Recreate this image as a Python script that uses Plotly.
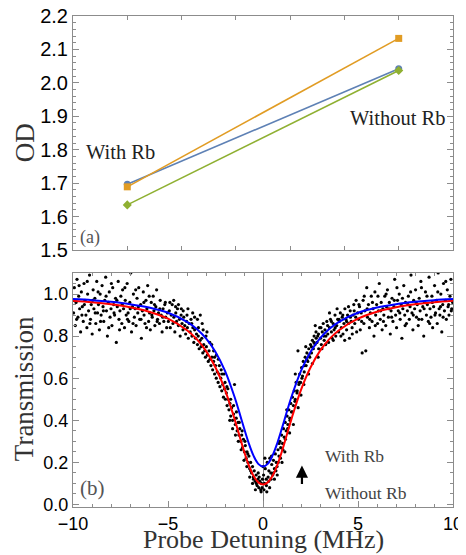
import plotly.graph_objects as go
from plotly.subplots import make_subplots

# (a) OD, with / without Rb
od_x = [1, 2]
od_blue = [1.697, 2.042]
od_orange = [1.689, 2.133]
od_green = [1.635, 2.037]

# (b) fitted transmission curves
curve_x = [-10, -9, -8, -7, -6, -5, -4, -3.5, -3, -2.5, -2, -1.5, -1.25, -1, -0.75, -0.5, -0.25, 0,
           0.25, 0.5, 0.75, 1, 1.25, 1.5, 2, 2.5, 3, 3.5, 4, 5, 6, 7, 8, 9, 10]
fit_with_rb = [0.976, 0.971, 0.963, 0.952, 0.936, 0.911, 0.868, 0.835, 0.789, 0.725, 0.635, 0.512, 0.439,
               0.363, 0.291, 0.232, 0.193, 0.180,
               0.193, 0.232, 0.291, 0.363, 0.439, 0.512, 0.635, 0.725, 0.789, 0.835, 0.868, 0.911, 0.936,
               0.952, 0.963, 0.971, 0.976]
fit_without_rb = [0.968, 0.961, 0.951, 0.937, 0.916, 0.883, 0.828, 0.787, 0.730, 0.651, 0.545, 0.407, 0.330,
                  0.254, 0.187, 0.136, 0.105, 0.095,
                  0.105, 0.136, 0.187, 0.254, 0.330, 0.407, 0.545, 0.651, 0.730, 0.787, 0.828, 0.883, 0.916,
                  0.937, 0.951, 0.961, 0.968]

# (b) measured points (detuning MHz, transmission)
pts_left_wing = [
    (-9.97, 0.91), (-9.93, 1.03), (-9.88, 0.85), (-9.84, 0.96), (-9.79, 1.07), (-9.74, 0.89), (-9.7, 0.99),
    (-9.65, 0.93), (-9.6, 0.82), (-9.56, 1.01), (-9.51, 0.94), (-9.46, 0.87), (-9.42, 1.05), (-9.37, 0.97),
    (-9.32, 0.9), (-9.27, 0.84), (-9.23, 1.0), (-9.18, 0.92), (-9.13, 1.09), (-9.08, 0.88), (-9.04, 0.95),
    (-8.99, 0.81), (-8.94, 1.02), (-8.9, 0.93), (-8.85, 0.98), (-8.8, 0.86), (-8.75, 1.06), (-8.71, 0.91),
    (-8.66, 0.95), (-8.61, 0.83), (-8.57, 1.0), (-8.52, 0.9), (-8.47, 1.04), (-8.42, 0.94), (-8.38, 0.87),
    (-8.33, 0.97), (-8.28, 1.08), (-8.24, 0.92), (-8.19, 0.8), (-8.14, 0.96), (-8.09, 1.01), (-8.05, 0.89),
    (-8.0, 0.93), (-7.95, 0.85), (-7.91, 1.03), (-7.86, 0.95), (-7.81, 0.9), (-7.76, 0.98), (-7.72, 0.77),
    (-7.67, 0.94), (-7.62, 1.06), (-7.58, 0.88), (-7.53, 0.92), (-7.48, 0.99), (-7.43, 0.86), (-7.39, 1.02),
    (-7.34, 0.93), (-7.29, 0.84), (-7.25, 0.97), (-7.2, 0.9), (-7.15, 1.05), (-7.1, 0.91), (-7.06, 0.87),
    (-7.01, 0.96), (-6.96, 1.1), (-6.92, 0.82), (-6.87, 0.94), (-6.82, 1.0), (-6.77, 0.89), (-6.73, 0.93),
    (-6.68, 0.85), (-6.63, 0.98), (-6.59, 0.91), (-6.54, 1.03), (-6.49, 0.88), (-6.44, 0.95), (-6.4, 0.79),
    (-6.35, 0.92), (-6.3, 1.01), (-6.26, 0.9), (-6.21, 0.86), (-6.16, 0.97), (-6.11, 0.93), (-6.07, 1.04),
    (-6.02, 0.87), (-5.97, 0.91), (-5.93, 0.83), (-5.88, 0.96), (-5.83, 0.89), (-5.78, 0.99), (-5.74, 0.92),
    (-5.69, 0.85), (-5.64, 0.94), (-5.6, 1.02), (-5.55, 0.88), (-5.5, 0.91), (-5.45, 0.86), (-5.41, 0.97),
    (-5.36, 0.9), (-5.31, 0.82), (-5.26, 0.93), (-5.22, 0.87), (-5.17, 0.95), (-5.12, 0.89), (-5.07, 0.84),
    (-5.03, 0.91),
    (-9.95, 0.97), (-9.81, 0.88), (-9.68, 1.04), (-9.53, 0.9), (-9.4, 0.95), (-9.25, 1.06), (-9.11, 0.86),
    (-8.97, 0.97), (-8.83, 0.91), (-8.68, 1.01), (-8.55, 0.87), (-8.4, 0.92), (-8.26, 0.99), (-8.12, 0.84),
    (-7.98, 1.05), (-7.84, 0.91), (-7.69, 0.97), (-7.55, 0.83), (-7.41, 0.95), (-7.27, 1.03), (-7.13, 0.88),
    (-6.99, 0.93), (-6.84, 0.86), (-6.7, 1.02), (-6.56, 0.94), (-6.42, 0.88), (-6.27, 0.96), (-6.13, 0.84),
    (-5.99, 0.99), (-5.85, 0.9), (-5.71, 0.95), (-5.57, 0.87), (-5.43, 0.93), (-5.28, 0.89), (-5.14, 0.96),
]
pts_left_slope = [
    (-4.98, 0.87), (-4.93, 0.92), (-4.88, 0.84), (-4.83, 0.9), (-4.78, 0.95), (-4.74, 0.86), (-4.69, 0.89),
    (-4.64, 0.82), (-4.59, 0.91), (-4.55, 0.87), (-4.5, 0.93), (-4.45, 0.85), (-4.4, 0.88), (-4.36, 0.8),
    (-4.31, 0.9), (-4.26, 0.86), (-4.21, 0.83), (-4.17, 0.89), (-4.12, 0.85), (-4.07, 0.81), (-4.02, 0.87),
    (-3.98, 0.84), (-3.93, 0.79), (-3.88, 0.86), (-3.83, 0.82), (-3.79, 0.88), (-3.74, 0.8), (-3.69, 0.84),
    (-3.64, 0.77), (-3.6, 0.83), (-3.55, 0.79), (-3.5, 0.81), (-3.45, 0.76), (-3.41, 0.8), (-3.36, 0.74),
    (-3.31, 0.78), (-3.26, 0.75), (-3.22, 0.79), (-3.17, 0.72), (-3.12, 0.76), (-3.07, 0.73), (-3.03, 0.7),
    (-2.98, 0.75), (-2.93, 0.71), (-2.88, 0.68), (-2.84, 0.73), (-2.79, 0.69), (-2.74, 0.66), (-2.69, 0.7),
    (-2.65, 0.64), (-2.6, 0.68), (-2.55, 0.62), (-2.5, 0.66), (-2.46, 0.6), (-2.41, 0.63), (-2.36, 0.58),
    (-2.31, 0.62), (-2.27, 0.56), (-2.22, 0.6), (-2.17, 0.54), (-2.12, 0.57), (-2.08, 0.51), (-2.03, 0.55),
    (-1.98, 0.5), (-1.93, 0.53), (-1.89, 0.47), (-1.84, 0.5), (-1.79, 0.45), (-1.74, 0.48), (-1.7, 0.42),
    (-1.65, 0.46), (-1.6, 0.4), (-1.55, 0.43), (-1.5, 0.57), (-1.46, 0.38), (-1.41, 0.41), (-1.36, 0.35),
    (-1.31, 0.39), (-1.27, 0.33), (-1.22, 0.36), (-1.17, 0.3), (-1.12, 0.33), (-1.08, 0.27), (-1.03, 0.31),
    (-0.98, 0.25), (-0.93, 0.28), (-0.89, 0.22), (-0.84, 0.25), (-0.79, 0.2), (-0.74, 0.23), (-0.7, 0.17),
    (-0.65, 0.2), (-0.6, 0.15), (-0.55, 0.18), (-0.51, 0.13), (-0.46, 0.16), (-0.41, 0.11), (-0.36, 0.14),
    (-0.31, 0.09), (-0.27, 0.12), (-0.22, 0.08), (-0.17, 0.11), (-0.12, 0.07), (-0.08, 0.1), (-0.03, 0.12),
    (-4.9, 0.96), (-4.6, 0.94), (-4.3, 0.93), (-4.0, 0.9), (-3.75, 0.86), (-3.6, 0.89), (-3.4, 0.84),
    (-3.2, 0.86), (-3.0, 0.8), (-2.8, 0.77), (-2.6, 0.73), (-2.45, 0.71), (-2.3, 0.66), (-2.15, 0.62),
    (-2.0, 0.58), (-1.85, 0.55), (-1.7, 0.5), (-1.55, 0.47), (-1.4, 0.44), (-1.25, 0.39), (-1.1, 0.35),
    (-0.95, 0.3), (-0.8, 0.24), (-0.65, 0.16), (-0.5, 0.12), (-0.35, 0.1), (-0.2, 0.13), (-0.05, 0.08),
    (-4.7, 0.97), (-4.45, 0.95), (-4.2, 0.92), (-3.95, 0.93), (-3.7, 0.91), (-3.45, 0.88), (-3.3, 0.9),
    (-3.15, 0.83), (-2.95, 0.82), (-2.7, 0.76), (-2.55, 0.7), (-2.35, 0.69), (-2.2, 0.64), (-2.05, 0.62),
    (-1.9, 0.56), (-1.75, 0.4), (-1.6, 0.36), (-1.45, 0.33), (-1.3, 0.3), (-1.15, 0.26), (-1.0, 0.21),
    (-0.85, 0.18), (-0.7, 0.13), (-0.55, 0.1), (-0.4, 0.07), (-0.25, 0.15), (-0.1, 0.06),
]
pts_right_slope = [
    (0.03, 0.14), (0.08, 0.1), (0.12, 0.17), (0.17, 0.12), (0.22, 0.2), (0.27, 0.13), (0.31, 0.16),
    (0.36, 0.22), (0.41, 0.15), (0.46, 0.19), (0.51, 0.14), (0.55, 0.21), (0.6, 0.17), (0.65, 0.24),
    (0.7, 0.2), (0.74, 0.18), (0.79, 0.26), (0.84, 0.23), (0.89, 0.3), (0.93, 0.27), (0.98, 0.33),
    (1.03, 0.29), (1.08, 0.36), (1.12, 0.32), (1.17, 0.39), (1.22, 0.35), (1.27, 0.42), (1.31, 0.38),
    (1.36, 0.45), (1.41, 0.41), (1.46, 0.48), (1.5, 0.44), (1.55, 0.51), (1.6, 0.47), (1.65, 0.54),
    (1.7, 0.5), (1.74, 0.58), (1.79, 0.53), (1.84, 0.73), (1.89, 0.57), (1.93, 0.62), (1.98, 0.58),
    (2.03, 0.65), (2.08, 0.61), (2.12, 0.68), (2.17, 0.63), (2.22, 0.7), (2.27, 0.66), (2.31, 0.72),
    (2.36, 0.68), (2.41, 0.74), (2.46, 0.7), (2.5, 0.76), (2.55, 0.72), (2.6, 0.78), (2.65, 0.74),
    (2.69, 0.8), (2.74, 0.76), (2.79, 0.82), (2.84, 0.77), (2.88, 0.8), (2.93, 0.74), (2.98, 0.84),
    (3.03, 0.79), (3.07, 0.76), (3.12, 0.82), (3.17, 0.86), (3.22, 0.78), (3.26, 0.83), (3.31, 0.8),
    (3.36, 0.87), (3.41, 0.81), (3.45, 0.77), (3.5, 0.84), (3.55, 0.88), (3.6, 0.82), (3.64, 0.79),
    (3.69, 0.86), (3.74, 0.83), (3.79, 0.9), (3.83, 0.8), (3.88, 0.85), (3.93, 0.88), (3.98, 0.82),
    (4.02, 0.87), (4.07, 0.91), (4.12, 0.84), (4.17, 0.89), (4.21, 0.81), (4.26, 0.86), (4.31, 0.93),
    (4.36, 0.88), (4.4, 0.83), (4.45, 0.9), (4.5, 0.86), (4.55, 0.79), (4.59, 0.92), (4.64, 0.87),
    (4.69, 0.84), (4.74, 0.9), (4.78, 0.95), (4.83, 0.86), (4.88, 0.89), (4.93, 0.82), (4.98, 0.91),
    (0.05, 0.07), (0.18, 0.09), (0.3, 0.11), (0.42, 0.12), (0.55, 0.15), (0.68, 0.16), (0.8, 0.2),
    (0.92, 0.22), (1.05, 0.26), (1.18, 0.31), (1.3, 0.36), (1.42, 0.4), (1.55, 0.44), (1.68, 0.49),
    (1.8, 0.54), (1.92, 0.58), (2.05, 0.6), (2.18, 0.66), (2.3, 0.69), (2.42, 0.71), (2.55, 0.75),
    (2.68, 0.77), (2.8, 0.79), (2.92, 0.81), (3.05, 0.84), (3.2, 0.8), (3.4, 0.85), (3.6, 0.87),
    (3.8, 0.84), (4.0, 0.88), (4.2, 0.9), (4.4, 0.87), (4.6, 0.89), (4.8, 0.92),
    (0.0, 0.18), (0.1, 0.22), (0.2, 0.06), (0.35, 0.08), (0.45, 0.23), (0.6, 0.12), (0.75, 0.14),
    (0.85, 0.29), (1.0, 0.2), (1.15, 0.25), (1.25, 0.45), (1.4, 0.34), (1.6, 0.38), (1.7, 0.62),
    (1.85, 0.46), (2.0, 0.52), (2.15, 0.57), (2.25, 0.75), (2.4, 0.62), (2.6, 0.67), (2.75, 0.85),
    (2.9, 0.7), (3.1, 0.74), (3.3, 0.76), (3.5, 0.91), (3.7, 0.78), (3.9, 0.93), (4.1, 0.8),
    (4.3, 0.78), (4.5, 0.94), (4.7, 0.81), (4.9, 0.97),
]
pts_right_wing = [
    (5.03, 0.88), (5.08, 0.94), (5.12, 0.83), (5.17, 0.91), (5.22, 0.72), (5.27, 0.97), (5.31, 0.86),
    (5.36, 0.92), (5.41, 0.73), (5.46, 1.03), (5.5, 0.89), (5.55, 0.95), (5.6, 0.84), (5.65, 0.91),
    (5.7, 0.99), (5.74, 0.87), (5.79, 0.93), (5.84, 0.8), (5.89, 1.01), (5.93, 0.9), (5.98, 0.95),
    (6.03, 0.86), (6.08, 0.92), (6.12, 1.05), (6.17, 0.88), (6.22, 0.96), (6.27, 0.83), (6.31, 0.93),
    (6.36, 0.9), (6.41, 0.99), (6.46, 0.85), (6.5, 0.94), (6.55, 1.02), (6.6, 0.89), (6.65, 0.96),
    (6.7, 0.81), (6.74, 0.92), (6.79, 0.98), (6.84, 0.87), (6.89, 0.94), (6.93, 1.07), (6.98, 0.9),
    (7.03, 0.84), (7.08, 0.97), (7.12, 0.92), (7.17, 1.0), (7.22, 0.88), (7.27, 0.95), (7.31, 0.79),
    (7.36, 0.93), (7.41, 1.04), (7.46, 0.9), (7.5, 0.96), (7.55, 0.86), (7.6, 0.92), (7.65, 0.99),
    (7.7, 0.88), (7.74, 0.94), (7.79, 1.09), (7.84, 0.91), (7.89, 0.83), (7.93, 0.97), (7.98, 0.93),
    (8.03, 1.02), (8.08, 0.89), (8.12, 0.95), (8.17, 0.85), (8.22, 0.98), (8.27, 0.92), (8.31, 1.06),
    (8.36, 0.88), (8.41, 0.94), (8.46, 0.8), (8.5, 0.96), (8.55, 1.01), (8.6, 0.9), (8.65, 0.95),
    (8.7, 0.87), (8.74, 1.08), (8.79, 0.93), (8.84, 0.89), (8.89, 0.99), (8.93, 0.84), (8.98, 0.94),
    (9.03, 1.04), (9.08, 0.91), (9.12, 0.97), (9.17, 0.86), (9.22, 1.1), (9.27, 0.93), (9.31, 0.9),
    (9.36, 1.0), (9.41, 0.82), (9.46, 0.95), (9.5, 1.05), (9.55, 0.92), (9.6, 0.97), (9.65, 0.88),
    (9.7, 1.02), (9.74, 0.94), (9.79, 0.9), (9.84, 0.99), (9.89, 1.07), (9.93, 0.93), (9.98, 0.96),
    (5.05, 0.95), (5.19, 0.87), (5.33, 0.99), (5.48, 0.93), (5.62, 0.88), (5.76, 0.96), (5.91, 0.85),
    (6.05, 0.99), (6.19, 0.92), (6.34, 0.87), (6.48, 1.0), (6.62, 0.93), (6.77, 0.89), (6.91, 0.97),
    (7.05, 1.03), (7.2, 0.91), (7.34, 0.98), (7.48, 0.85), (7.63, 0.95), (7.77, 1.01), (7.91, 0.9),
    (8.06, 0.96), (8.2, 0.88), (8.34, 1.03), (8.48, 0.93), (8.63, 0.99), (8.77, 0.86), (8.91, 0.96),
    (9.05, 0.9), (9.2, 1.01), (9.34, 0.94), (9.48, 0.89), (9.62, 1.06), (9.77, 0.95), (9.91, 0.92),
]

all_pts = pts_left_wing + pts_left_slope + pts_right_slope + pts_right_wing
meas_x = [p[0] for p in all_pts]
meas_y = [p[1] for p in all_pts]

SERIF = "Liberation Serif, Times New Roman, serif"
SANS = "Liberation Sans, Arial, sans-serif"
FRAME = "#8c8c8c"

fig = make_subplots(rows=2, cols=1, vertical_spacing=0.0468)

# panel (a)
for ys, col, sym in [(od_blue, "#5E81B5", "circle"), (od_orange, "#E19C24", "square"),
                     (od_green, "#8FB032", "diamond")]:
    fig.add_trace(go.Scatter(x=od_x, y=ys, mode="lines+markers",
                             line=dict(color=col, width=1.6),
                             marker=dict(color=col, symbol=sym, size=7)), row=1, col=1)

# panel (b)
fig.add_trace(go.Scatter(x=meas_x, y=meas_y, mode="markers",
                         marker=dict(color="black", size=3.2)), row=2, col=1)
fig.add_trace(go.Scatter(x=curve_x, y=fit_without_rb, mode="lines", line_shape="spline",
                         line=dict(color="#ff0000", width=2)), row=2, col=1)
fig.add_trace(go.Scatter(x=curve_x, y=fit_with_rb, mode="lines", line_shape="spline",
                         line=dict(color="#0000ff", width=2)), row=2, col=1)

axis_common = dict(showgrid=False, showline=True, linecolor=FRAME, linewidth=1, mirror="ticks",
                   ticks="inside", tickcolor=FRAME, automargin=False, ticklabeloverflow="allow")

fig.update_xaxes(axis_common, row=1, col=1, range=[0.8, 2.2], dtick=0.2, ticklen=4,
                 showticklabels=False, zeroline=False)
fig.update_yaxes(axis_common, row=1, col=1, range=[1.5, 2.2], dtick=0.1, ticklen=6,
                 tickformat=".1f", zeroline=False,
                 tickfont=dict(family=SANS, size=20, color="black"),
                 minor=dict(ticks="inside", dtick=0.02, ticklen=3, tickcolor=FRAME))
fig.update_xaxes(axis_common, row=2, col=1, range=[-10, 10], dtick=5, ticklen=6,
                 zeroline=True, zerolinecolor="#808080", zerolinewidth=1,
                 tickfont=dict(family=SANS, size=18, color="black"),
                 minor=dict(ticks="inside", dtick=1, ticklen=3, tickcolor=FRAME))
fig.update_yaxes(axis_common, row=2, col=1, range=[-0.012, 1.1], dtick=0.2, ticklen=6,
                 tickformat=".1f", zeroline=False,
                 tickfont=dict(family=SANS, size=18, color="black"),
                 minor=dict(ticks="inside", dtick=0.05, ticklen=3, tickcolor=FRAME))

# axis titles
title_font = dict(family=SERIF, size=27, color="#333")
fig.add_annotation(x=-0.126, y=0.741, xref="paper", yref="paper", text="OD", textangle=-90,
                   xanchor="center", yanchor="middle", showarrow=False, font=title_font)
fig.add_annotation(x=-0.129, y=0.242, xref="paper", yref="paper", text="Transmission", textangle=-90,
                   xanchor="center", yanchor="middle", showarrow=False, font=title_font)
fig.add_annotation(x=0, y=-0.066, xref="x2", yref="paper", text="Probe Detuning (MHz)",
                   showarrow=False, yanchor="middle", font=dict(family=SERIF, size=26, color="#333"))

ann_font = dict(family=SERIF, size=20.5, color="#222")
fig.add_annotation(x=0.975, y=1.793, xref="x", yref="y", text="With Rb", showarrow=False, font=ann_font)
fig.add_annotation(x=1.997, y=1.895, xref="x", yref="y", text="Without Rb", showarrow=False, font=ann_font)
fig.add_annotation(x=0.864, y=1.536, xref="x", yref="y", text="(a)", showarrow=False,
                   font=dict(family=SERIF, size=18, color="#555"))

txt_font = dict(family=SERIF, size=17.5, color="#444")
fig.add_annotation(x=3.14, y=0.229, xref="x2", yref="y2", text="With Rb", showarrow=False,
                   xanchor="left", font=txt_font)
fig.add_annotation(x=3.14, y=0.055, xref="x2", yref="y2", text="Without Rb", showarrow=False,
                   xanchor="left", font=txt_font)
fig.add_annotation(x=-9.0, y=0.08, xref="x2", yref="y2", text="(b)", showarrow=False,
                   font=dict(family=SERIF, size=21, color="#555"))
fig.add_annotation(x=2.05, y=0.185, xref="x2", yref="y2", ax=2.05, ay=0.09, axref="x2", ayref="y2",
                   text="", showarrow=True, arrowhead=2, arrowsize=1.1, arrowwidth=2.2, arrowcolor="black")

# page body keeps an 8 px margin, so the figure is 8 px smaller and shifted accordingly
fig.update_layout(width=458, height=547, margin=dict(l=65, r=13, t=8, b=48),
                  plot_bgcolor="white", paper_bgcolor="white", showlegend=False)

fig.write_html("out.html")
